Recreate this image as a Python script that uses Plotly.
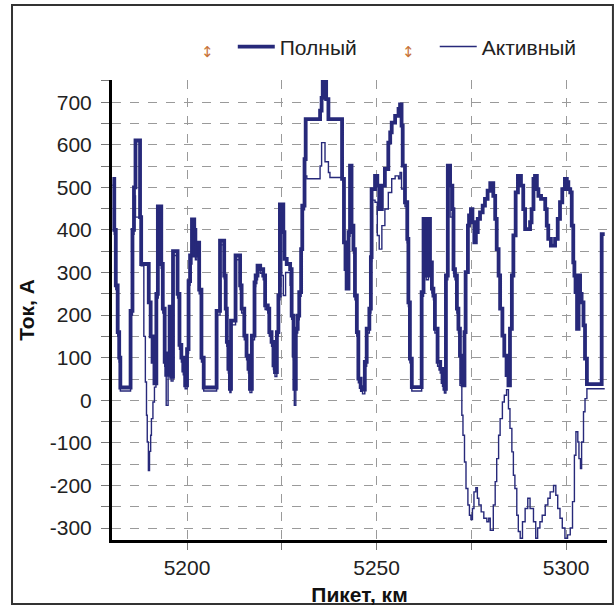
import plotly.graph_objects as go

# Полный (full current)
full_x = [5180.3, 5180.8, 5181.2, 5181.7, 5182.1, 5182.4, 5185.1, 5185.6, 5186.0, 5186.4,
          5187.6, 5187.9, 5189.9, 5190.4, 5190.9, 5191.4, 5191.9, 5192.3, 5193.2, 5193.6,
          5194.1, 5194.5, 5195.0, 5195.4, 5195.8, 5196.3, 5197.5, 5198.0, 5198.5, 5199.0,
          5199.5, 5200.0, 5200.4, 5200.8, 5201.3, 5201.9, 5202.2, 5202.6, 5203.2, 5203.8,
          5204.4, 5207.8, 5208.7, 5209.8, 5210.2, 5210.5, 5210.9, 5211.3, 5211.6, 5212.8,
          5214.0, 5214.4, 5215.1, 5215.7, 5216.2, 5216.6, 5217.1, 5217.8, 5218.1, 5218.6,
          5219.3, 5220.1, 5220.6, 5221.3, 5221.7, 5222.3, 5222.8, 5223.2, 5223.7, 5224.1,
          5224.5, 5225.4, 5225.7, 5226.3, 5227.2, 5227.6, 5228.1, 5228.3, 5228.7, 5229.2,
          5229.6, 5230.1, 5230.4, 5231.0, 5231.3, 5235.1, 5235.5, 5235.8, 5236.7, 5237.3,
          5240.9, 5241.4, 5241.8, 5242.1, 5242.6, 5243.0, 5243.4, 5243.9, 5244.3, 5244.8,
          5245.2, 5245.8, 5246.3, 5246.9, 5247.4, 5248.1, 5248.5, 5248.7, 5249.6, 5250.2,
          5250.7, 5251.4, 5252.2, 5253.1, 5253.6, 5254.0, 5254.9, 5255.8, 5256.2, 5256.6,
          5256.9, 5257.5, 5258.1, 5258.4, 5258.8, 5259.3, 5261.9, 5262.4, 5263.1, 5263.7,
          5264.1, 5264.6, 5265.0, 5265.4, 5266.1, 5266.8, 5267.4, 5267.9, 5268.3, 5268.8,
          5269.4, 5270.0, 5270.3, 5270.7, 5271.2, 5271.6, 5272.0, 5272.5, 5272.7, 5273.2,
          5273.5, 5274.1, 5274.4, 5274.9, 5275.3, 5275.8, 5276.2, 5276.7, 5277.3, 5278.0,
          5278.6, 5279.3, 5280.0, 5280.8, 5281.3, 5281.7, 5282.2, 5282.6, 5283.2, 5283.7,
          5284.3, 5284.8, 5285.2, 5285.7, 5286.1, 5286.7, 5287.3, 5288.1, 5288.7, 5289.2,
          5289.9, 5290.5, 5290.9, 5291.4, 5291.8, 5292.3, 5292.7, 5293.4, 5294.5, 5294.9,
          5295.3, 5296.0, 5297.1, 5297.8, 5298.4, 5299.0, 5299.7, 5300.2, 5300.6, 5301.1,
          5301.5, 5301.9, 5302.2, 5302.5, 5302.9, 5303.3, 5303.7, 5304.1, 5304.6, 5305.0,
          5305.5, 5309.4, 5310.2]
full_y = [520, 400, 270, 160, 100, 30, 210, 400, 500, 610,
          430, 320, 230, 150, 90, 40, 250, 455, 320, 215,
          90, 60, 110, 220, 55, 350, 250, 130, 100, 70,
          35, 120, 280, 340, 425, 400, 340, 370, 260, 100,
          30, 210, 375, 293, 215, 137, 74, 27, 187, 340,
          270, 215, 152, 105, 74, 27, 152, 277, 293, 316,
          308, 293, 223, 215, 160, 137, 82, 66, 160, 246,
          460, 395, 332, 320, 308, 199, 105, 27, 168, 199,
          254, 355, 457, 566, 660, 680, 710, 752, 707, 660,
          520, 371, 308, 262, 395, 551, 410, 355, 246, 160,
          51, 31, 25, 90, 168, 215, 336, 496, 527, 504,
          449, 504, 543, 605, 629, 652, 668, 684, 695, 645,
          551, 465, 379, 230, 98, 31, 254, 426, 293, 426,
          324, 262, 246, 168, 90, 74, 43, 27, 293, 551,
          504, 449, 308, 293, 215, 168, 105, 43, 35, 160,
          301, 410, 434, 449, 418, 371, 395, 426, 441, 457,
          473, 492, 510, 480, 426, 355, 293, 215, 152, 105,
          59, 35, 168, 293, 387, 488, 527, 504, 449, 402,
          402, 418, 449, 520, 527, 496, 480, 473, 449, 410,
          379, 363, 379, 426, 465, 496, 520, 512, 496, 488,
          410, 324, 293, 254, 168, 293, 250, 230, 176, 98,
          38, 390, 390]

# Активный (active current)
act_x = [5180.3, 5180.8, 5181.2, 5181.7, 5182.1, 5182.4, 5185.1, 5185.6, 5186.0, 5186.4,
         5187.9, 5188.6, 5189.0, 5189.3, 5189.5, 5189.8, 5190.1, 5190.4, 5190.6, 5191.0,
         5191.4, 5191.8, 5192.1, 5192.4, 5193.2, 5193.6, 5194.1, 5194.5, 5195.0, 5195.4,
         5195.8, 5196.3, 5197.5, 5198.0, 5198.5, 5199.0, 5199.5, 5200.0, 5200.4, 5200.8,
         5201.3, 5201.9, 5202.2, 5202.6, 5203.2, 5203.8, 5204.4, 5207.8, 5208.7, 5209.8,
         5210.2, 5210.5, 5210.9, 5211.3, 5211.6, 5212.8, 5214.0, 5214.4, 5215.1, 5215.7,
         5216.2, 5216.6, 5217.1, 5217.8, 5218.1, 5218.6, 5219.3, 5220.1, 5220.6, 5221.3,
         5221.7, 5222.3, 5222.8, 5223.2, 5223.7, 5224.1, 5224.5, 5225.0, 5225.4, 5226.0,
         5227.2, 5227.6, 5228.1, 5228.3, 5228.7, 5229.2, 5229.6, 5230.1, 5230.4, 5231.0,
         5231.6, 5235.1, 5235.5, 5236.4, 5237.3, 5237.7, 5241.1, 5241.4, 5241.8, 5242.1,
         5242.4, 5242.6, 5243.0, 5243.4, 5243.9, 5244.3, 5244.8, 5245.2, 5245.8, 5246.3,
         5246.9, 5247.4, 5248.1, 5248.5, 5248.7, 5249.6, 5250.2, 5250.7, 5251.4, 5252.2,
         5253.1, 5254.0, 5254.9, 5255.8, 5256.2, 5256.6, 5257.5, 5258.1, 5258.4, 5258.8,
         5259.3, 5261.9, 5262.4, 5263.1, 5263.7, 5264.1, 5264.6, 5265.0, 5265.4, 5266.1,
         5266.8, 5267.4, 5267.9, 5268.3, 5268.8, 5269.4, 5270.0, 5270.3, 5270.7, 5271.2,
         5271.6, 5272.0, 5272.5, 5272.8, 5273.2, 5273.6, 5274.1, 5274.5, 5274.9, 5275.3,
         5275.7, 5276.2, 5276.6, 5277.0, 5277.6, 5278.3, 5279.1, 5279.6, 5280.0, 5280.8,
         5281.3, 5281.7, 5282.2, 5282.6, 5283.2, 5283.7, 5284.3, 5284.8, 5285.2, 5285.7,
         5286.1, 5286.5, 5287.0, 5287.4, 5287.9, 5288.5, 5289.2, 5289.9, 5290.5, 5291.4,
         5292.0, 5292.5, 5293.1, 5293.7, 5294.5, 5295.2, 5295.8, 5296.7, 5297.3, 5297.8,
         5298.4, 5299.0, 5299.7, 5300.4, 5301.1, 5301.7, 5302.2, 5302.6, 5303.1, 5303.4,
         5303.8, 5304.1, 5304.6, 5305.0, 5305.5, 5310.2]
act_y = [505, 390, 260, 150, 90, 22, 200, 390, 480, 430,
         316, 150, 43, -35, -98, -165, -120, -82, -43, -4,
         31, 60, 240, 440, 310, 205, 80, -12, 100, 210,
         45, 340, 240, 120, 90, 60, 27, 110, 270, 320,
         410, 390, 330, 360, 250, 90, 22, 200, 365, 285,
         205, 127, 64, 18, 177, 330, 260, 205, 142, 95,
         64, 18, 142, 267, 283, 306, 298, 283, 213, 205,
         150, 127, 72, 56, 150, 236, 440, 293, 246, 300,
         270, 190, 95, -12, 158, 189, 244, 345, 447, 527,
         520, 550, 605, 560, 535, 523, 512, 371, 308, 262,
         293, 385, 540, 400, 345, 236, 150, 41, 21, 15,
         80, 158, 205, 326, 470, 465, 387, 355, 410, 449,
         488, 520, 527, 520, 535, 496, 455, 370, 220, 88,
         22, 244, 416, 283, 416, 314, 252, 236, 158, 80,
         64, 33, 17, 283, 540, 430, 439, 298, 283, 205,
         158, 35, -35, -82, -145, -207, -246, -270, -280, -254,
         -215, -205, -230, -246, -262, -277, -285, -277, -305, -246,
         -191, -137, -82, -43, -4, 12, 25, -20, -66, -121,
         -176, -207, -270, -308, -324, -285, -254, -230, -254, -285,
         -324, -300, -285, -270, -246, -230, -215, -200, -223, -254,
         -277, -300, -324, -316, -300, -238, -129, -74, -98, -137,
         -160, -98, -27, 4, 27, 27]

x_ticks = [5200, 5250, 5300]
y_ticks = [-300, -200, -100, 0, 100, 200, 300, 400, 500, 600, 700]

LINE = "#27297a"
FONT = "Liberation Sans, Arial, sans-serif"
FS = 21

fig = go.Figure()
fig.add_trace(go.Scatter(x=full_x, y=full_y, mode="lines", name="Полный",
                         line=dict(color=LINE, width=3.8, shape="hv"), legend="legend"))
fig.add_trace(go.Scatter(x=act_x, y=act_y, mode="lines", name="Активный",
                         line=dict(color=LINE, width=1.4, shape="hv"), legend="legend2"))

grid = dict(showgrid=True, gridcolor="#9a9a9a", griddash="dash", gridwidth=1)

fig.update_xaxes(range=[5180.2, 5310.8], tickvals=x_ticks,
                 ticktext=[str(v) for v in x_ticks], automargin=False,
                 showline=True, linecolor="black", linewidth=3,
                 ticks="outside", ticklen=7, tickcolor="#777",
                 tickfont=dict(size=FS, color="#222", family=FONT),
                 title=dict(text="<b>Пикет, км</b>", font=dict(size=FS, color="#111", family=FONT), standoff=10),
                 minor=dict(dtick=25, tick0=5200, ticks="outside", ticklen=7, tickcolor="#777", **grid),
                 zeroline=False, **grid)
fig.update_yaxes(range=[-328, 752], tickvals=y_ticks,
                 ticktext=[str(v) for v in y_ticks], automargin=False,
                 showline=True, linecolor="black", linewidth=3,
                 ticks="outside", ticklen=8, tickcolor="#777", ticklabelstandoff=5,
                 tickfont=dict(size=FS, color="#222", family=FONT),
                 title=dict(text="<b>Ток, А</b>", font=dict(size=FS, color="#111", family=FONT), standoff=10),
                 minor=dict(dtick=50, tick0=0, ticks="outside", ticklen=8, tickcolor="#777", **grid),
                 zeroline=False, **grid)

# outer frame
fig.add_shape(type="rect", xref="paper", yref="paper",
              x0=-0.202, x1=1.012, y0=-0.139, y1=1.163,
              line=dict(color="#333", width=2), fillcolor="rgba(0,0,0,0)", layer="below")

for xp in [0.176, 0.598]:
    fig.add_annotation(xref="paper", yref="paper", x=xp, y=1.085, text="↕",
                       showarrow=False, font=dict(size=15, color="#c8733a", family="DejaVu Sans"))

leg_common = dict(orientation="h", xanchor="left", y=1.072, yanchor="middle",
                  font=dict(size=FS, color="#222", family=FONT), itemwidth=37,
                  bgcolor="rgba(0,0,0,0)", borderwidth=0)

fig.update_layout(
    width=616, height=607,
    margin=dict(l=112, r=9, t=80, b=67),
    paper_bgcolor="white", plot_bgcolor="white",
    font=dict(family=FONT, color="#222"),
    showlegend=True,
    legend=dict(x=0.244, **leg_common),
    legend2=dict(x=0.652, **leg_common),
)

fig.write_html("out.html", config={"displayModeBar": False},
               post_script="document.body.style.margin='0';")
